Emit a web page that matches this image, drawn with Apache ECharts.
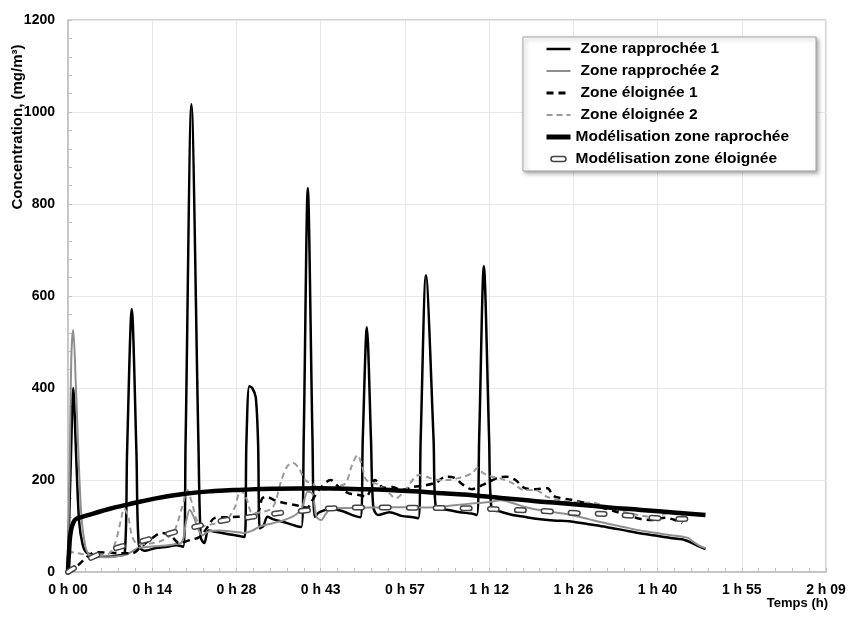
<!DOCTYPE html>
<html>
<head>
<meta charset="utf-8">
<script src="https://cdn.jsdelivr.net/npm/echarts@6/dist/echarts.min.js"></script>
<style>html,body{margin:0;padding:0;background:#fff}#c{width:850px;height:624px}</style>
</head>
<body>
<div id="c"></div>
<script>
// ---- tick labels (time axis in minutes, major unit 14.4 min) ----
const xTickLabels = ['0 h 00','0 h 14','0 h 28','0 h 43','0 h 57','1 h 12','1 h 26','1 h 40','1 h 55','2 h 09'];
const xTickStep = 14.4;
const seriesNames = ['Zone rapprochée 1','Zone rapprochée 2','Zone éloignée 1','Zone éloignée 2','Modélisation zone raprochée','Modélisation zone éloignée'];

// ---- Zone rapprochée 1 (time in min, concentration mg/m3) ----
const r1Time = [0,0.5,0.9,1.4,1.9,2.5,3.2,5,7,8.5,9.7,10.1,10.9,11.7,12.1,13,15,17,18.5,19.7,20.1,21.1,22.3,22.7,23.3,24,25,27,29,30.2,30.5,31.0,31.5,32.1,32.5,32.8,33.4,34.1,35,37,39,39.9,40.3,41.0,41.8,42.2,43,45,47,49,50.0,50.4,51.1,51.8,52.2,53,55,57,59,59.9,60.3,61.2,62.5,62.9,65,67,69,69.9,70.3,71.1,72.0,72.4,74,76,78,80,83,86,89,92,95,97.5,100,103,105,106.5,108,109];
const r1Conc = [20,250,400,250,110,60,42,35,33,36,40,260,572,260,60,46,52,55,58,55,280,1017,280,75,63,90,88,83,79,76,280,404,400,380,280,95,100,120,115,108,100,98,290,835,290,120,130,137,132,122,119,290,532,290,141,124,130,122,119,117,290,645,290,140,135,130,127,124,290,665,290,139,131,124,120,116,112,110,104,98,91,85,80,74,71,64,55,50];

// ---- Zone rapprochée 2 ----
const r2Time = [0,0.3,0.6,0.9,1.3,1.8,2.3,2.9,3.5,5,7,9,10,11,12,14,16,18,19.5,20.2,20.8,21.5,22.2,23,24,26,28,30,31.5,33,35,37,39,40,41,41.8,42.5,43.3,44,45,48,52,56,60,63,66,70,72,74,76,78,80,83,86,89,92,95,97.5,100,103,105,106,107,108,109];
const r2Conc = [30,250,480,526,420,250,120,60,40,33,32,35,38,45,52,55,57,60,65,110,135,120,95,80,88,90,88,85,90,100,106,113,125,140,175,170,120,113,125,138,139,140,141,140,141,145,150,152,156,150,142,136,130,124,115,106,98,91,86,80,77,74,65,57,52];

// ---- Zone éloignée 1 ----
const e1Time = [0,1,2,3,4,5,7,9,11,12.5,14,16,17.5,19,21,22.5,24,25,27,29,31,32.5,33.2,34,35.5,37,39,41,41.5,43,44.9,46.5,48,49.5,51,52.5,54,55.5,57,59,61,63,64.5,66,67.5,69,71,73.5,75,76.5,78,80,82,83,86,89,91,94,96,98,100,102,104,105];
const e1Conc = [0,8,18,30,40,43,42,41,41,55,70,85,80,63,70,76,100,117,119,120,122,130,160,163,155,150,145,140,150,180,200,182,171,168,164,200,183,185,178,185,188,195,207,205,190,180,190,205,207,200,183,180,182,165,157,148,141,130,122,115,113,118,112,106];

// ---- Zone éloignée 2 ----
const e2Time = [0,1,2,3,5,7,8,9,9.6,10.3,11,12,14,16,18,19.5,20.4,21.2,22,23,25,27,28.5,29.5,30.5,31.5,33,35,36.5,37.5,38.5,39.5,40.5,42,43,44.5,46,47.5,48.5,49.5,50.3,51,53,55,56,57.5,60,62,63.5,65,67,69,70,71,72.5,74,76,78,80,82,86,90,93,96,100,103,106];
const e2Conc = [45,42,40,38,37,40,60,110,138,120,76,60,62,68,85,140,178,150,113,100,105,112,140,178,160,128,130,140,200,230,237,225,200,190,180,178,185,193,230,254,230,200,190,170,160,175,211,204,200,200,205,214,226,215,207,203,193,178,178,163,152,150,139,128,120,128,117];

// ---- Modélisation zone raprochée ----
const mrTime = [0,0.2,0.5,1,1.5,2,3,4.3,7,10,15,20,25,30,35,43,50,55,60,64,70,75,80,86,92,98,104,109];
const mrConc = [0,50,90,110,116,118,122,127,137,146,160,170,176,179,181,182,180,178,175,171,166,160,154,148,141,135,129,124];

// ---- Modélisation zone éloignée ----
const meTime = [0,1,2,3,4.3,6,9,13.5,18,23,27,31.5,36,41,46,50,56,64,70,76,82,87,92,96.5,101,106,107];
const meConc = [0,8,15,24,33,42,55,70,86,102,113,120,128,134,139,140,140,139,138,135,132,128,126,122,117,115,115];

function zip(t, v) { return t.map((x, i) => [x, v[i]]); }

const chart = echarts.init(document.getElementById('c'), null, {renderer: 'canvas'});
const FONT = '"Liberation Sans", Arial, sans-serif';

const baseLine = (name, t, v, ls, extra) => Object.assign({
  name: name, type: 'line', data: zip(t, v), showSymbol: false, symbol: 'none',
  smooth: 0.3, lineStyle: ls, animation: false, emphasis: {disabled: true}
}, extra || {});

const option = {
  animation: false,
  backgroundColor: '#ffffff',
  grid: {left: 68, right: 24, top: 20, bottom: 52, containLabel: false, outerBoundsMode: 'none',
         show: true, borderColor: '#a6a6a6', borderWidth: 1, backgroundColor: 'transparent'},
  xAxis: {
    type: 'value', min: 0, max: 129.6, interval: xTickStep,
    axisLine: {show: true, lineStyle: {color: '#bfbfbf', width: 1.5}},
    axisTick: {show: true, inside: true, length: 4, lineStyle: {color: '#bfbfbf'}},
    minorTick: {show: true, splitNumber: 5, length: 4, lineStyle: {color: '#bfbfbf'}},
    splitLine: {show: true, lineStyle: {color: '#e8e8e8', width: 1}},
    axisLabel: {color: '#000', fontFamily: FONT, fontWeight: 'bold', fontSize: 14, margin: 11,
      formatter: v => xTickLabels[Math.round(v / xTickStep)] || ''}
  },
  yAxis: {
    type: 'value', min: 0, max: 1200, interval: 200,
    axisLine: {show: true, lineStyle: {color: '#bfbfbf', width: 1.5}},
    axisTick: {show: true, inside: true, length: 4, lineStyle: {color: '#bfbfbf'}},
    minorTick: {show: true, splitNumber: 5, length: 4, lineStyle: {color: '#bfbfbf'}},
    splitLine: {show: true, lineStyle: {color: '#e8e8e8', width: 1}},
    axisLabel: {color: '#000', fontFamily: FONT, fontWeight: 'bold', fontSize: 14, margin: 13,
      formatter: v => String(Math.round(v))}
  },
  legend: {
    orient: 'vertical', left: 544, top: 41, padding: 0, itemGap: 6,
    itemWidth: 24, itemHeight: 14, z: 6,
    itemStyle: {opacity: 0},
    textStyle: {color: '#000', fontFamily: FONT, fontWeight: 'bold', fontSize: 15.5},
    data: [
      {name: seriesNames[0], lineStyle: {width: 2.5}, textStyle: {padding: [0, 0, 0, 5]}},
      {name: seriesNames[1], lineStyle: {width: 2}, textStyle: {padding: [0, 0, 0, 5]}},
      {name: seriesNames[2], lineStyle: {width: 3}, textStyle: {padding: [0, 0, 0, 5]}},
      {name: seriesNames[3], lineStyle: {width: 2}, textStyle: {padding: [0, 0, 0, 5]}},
      {name: seriesNames[4], lineStyle: {width: 5}},
      {name: seriesNames[5], icon: 'path://M0,0 M24,14 M7,4.5 L17,4.5 A2.5,2.5 0 0 1 17,9.5 L7,9.5 A2.5,2.5 0 0 1 7,4.5 Z',
       itemStyle: {opacity: 1, color: '#ffffff', borderColor: '#444444', borderWidth: 1.5}}
    ]
  },
  graphic: [
    {type: 'rect', z: 3, shape: {x: 523, y: 37, width: 293, height: 134},
     style: {fill: '#ffffff', stroke: '#a6a6a6', lineWidth: 1, shadowBlur: 4, shadowOffsetX: 2, shadowOffsetY: 2, shadowColor: 'rgba(0,0,0,0.35)'}},
    {type: 'text', z: 5, x: 18, y: 127, rotation: Math.PI / 2,
     style: {text: 'Concentration, (mg/m³)', font: 'bold 15px "Liberation Sans", Arial, sans-serif', fill: '#000',
             align: 'center', verticalAlign: 'middle', textAlign: 'center', textVerticalAlign: 'middle'}},
    {type: 'text', z: 5, x: 828, y: 603,
     style: {text: 'Temps (h)', font: 'bold 13px "Liberation Sans", Arial, sans-serif', fill: '#000',
             align: 'right', verticalAlign: 'middle', textAlign: 'right', textVerticalAlign: 'middle'}}
  ],
  series: [
    baseLine(seriesNames[0], r1Time, r1Conc, {color: '#000000', width: 2.5}, {color: '#000000'}),
    baseLine(seriesNames[1], r2Time, r2Conc, {color: '#8f8f8f', width: 2}, {color: '#8f8f8f'}),
    baseLine(seriesNames[2], e1Time, e1Conc, {color: '#000000', width: 2.5, type: [7, 5]}, {color: '#000000'}),
    baseLine(seriesNames[3], e2Time, e2Conc, {color: '#9a9a9a', width: 2, type: [6, 4]}, {color: '#9a9a9a'}),
    baseLine(seriesNames[4], mrTime, mrConc, {color: '#000000', width: 4.5}, {color: '#000000', smooth: 0.5}),
    baseLine(seriesNames[5], meTime, meConc, {color: '#444444', width: 6, type: [7, 20], cap: 'round'}, {color: '#444444', smooth: 0.5}),
    baseLine('meInner', meTime, meConc, {color: '#ffffff', width: 3, type: [7, 20], cap: 'round'}, {color: '#ffffff', smooth: 0.5, silent: true})
  ]
};
chart.setOption(option);
</script>
</body>
</html>
